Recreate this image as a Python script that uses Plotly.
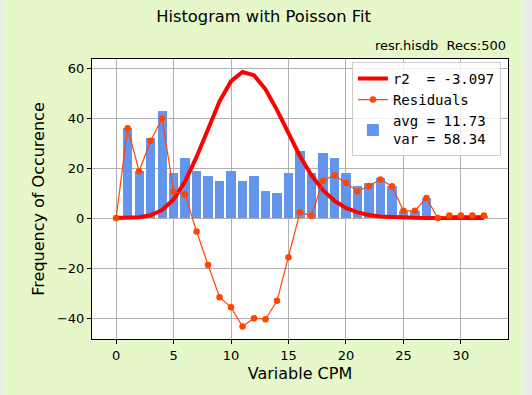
import plotly.graph_objects as go

# ---- data ----
cpm = list(range(0, 33))
counts = [0, 36, 19, 32, 43, 18, 24, 19, 17, 15, 19, 15, 17, 11, 10, 18, 27,
          18, 26, 24, 18, 13, 14, 16, 13, 3, 3, 8, 0, 1, 1, 1, 1]
fit = [0.004, 0.05, 0.28, 1.08, 3.18, 7.45, 14.57, 24.42, 35.8, 46.67, 54.74,
       58.38, 57.06, 51.49, 43.14, 33.73, 24.73, 17.07, 11.12, 6.87, 4.03, 2.25,
       1.2, 0.61, 0.3, 0.14, 0.06, 0.03, 0.01, 0.0, 0.0, 0.0, 0.0]
residuals = [0.0, 35.95, 18.72, 30.92, 39.82, 10.55, 9.43, -5.42, -18.8, -31.67,
             -35.74, -43.38, -40.06, -40.49, -33.14, -15.73, 2.27, 0.93, 14.88,
             17.13, 13.97, 10.75, 12.8, 15.39, 12.7, 2.86, 2.94, 7.97, -0.01,
             1.0, 1.0, 1.0, 1.0]
x_ticks = [0, 5, 10, 15, 20, 25, 30]
y_ticks = [-40, -20, 0, 20, 40, 60]
fit_label = "r2  = -3.097"
resid_label = "Residuals"
hist_label = "avg = 11.73<br>var = 58.34"
title = "Histogram with Poisson Fit"
subtitle = "resr.hisdb  Recs:500"

GREEN = "#e6f7c9"
GRAY = "#ebebeb"

fig = go.Figure()
fig.add_trace(go.Bar(x=cpm, y=counts, width=0.8, marker_color="#6495ed",
                     marker_line_width=0, name=hist_label, legendrank=3))
fig.add_trace(go.Scatter(x=cpm, y=fit, mode="lines", line=dict(color="#ff0000", width=4),
                         name=fit_label, legendrank=1))
fig.add_trace(go.Scatter(x=cpm, y=residuals, mode="lines+markers",
                         line=dict(color="#ff4500", width=1.2),
                         marker=dict(color="#ff4500", size=6.5),
                         name=resid_label, legendrank=2))

W, H = 532, 395
L, R, T, B = 92, 24, 59, 56
pw = W - L - R
ph = H - T - B

axis_common = dict(showline=True, linecolor="black", linewidth=1, mirror=True,
                   ticks="outside", ticklen=4, tickcolor="black",
                   showgrid=True, gridcolor="#b0b0b0", gridwidth=1,
                   zeroline=False, tickfont=dict(size=13, color="black"))

fig.update_layout(
    width=W, height=H,
    margin=dict(l=L, r=R, t=T, b=B),
    paper_bgcolor=GREEN, plot_bgcolor="white",
    font=dict(family="DejaVu Sans", color="black"),
    bargap=0,
    title=dict(text=title, x=263.5 / W, xanchor="center", y=1 - 16 / H,
               yanchor="middle", font=dict(size=16.3, color="black")),
    xaxis=dict(range=[-2.1, 34.1], tickvals=x_ticks,
               title=dict(text="Variable CPM", font=dict(size=16), standoff=6),
               **axis_common),
    yaxis=dict(range=[-48.4, 63.6], tickvals=y_ticks,
               title=dict(text="Frequency of Occurence", font=dict(size=16), standoff=8),
               **axis_common),
    legend=dict(x=0.983, y=0.99, xanchor="right", yanchor="top",
                bgcolor="rgba(255,255,255,0.8)", bordercolor="#cccccc", borderwidth=1,
                font=dict(family="DejaVu Sans Mono", size=14, color="black"),
                traceorder="normal", tracegroupgap=0),
    showlegend=True,
    annotations=[dict(text=subtitle, xref="paper", yref="paper", x=1, y=1,
                      xanchor="right", yanchor="bottom", yshift=4, showarrow=False,
                      font=dict(size=13, color="black"))],
    shapes=[
        dict(type="rect", xref="paper", yref="paper", layer="above",
             x0=-L / pw, x1=(3 - L) / pw, y0=-B / ph, y1=1 + T / ph,
             fillcolor=GRAY, line_width=0),
        dict(type="rect", xref="paper", yref="paper", layer="above",
             x0=(524 - L) / pw, x1=(W - L) / pw, y0=-B / ph, y1=1 + T / ph,
             fillcolor=GRAY, line_width=0),
    ],
)

fig.write_html("out.html", config={"displayModeBar": False},
               post_script="document.body.style.margin='0';document.body.style.background='#ebebeb';")
